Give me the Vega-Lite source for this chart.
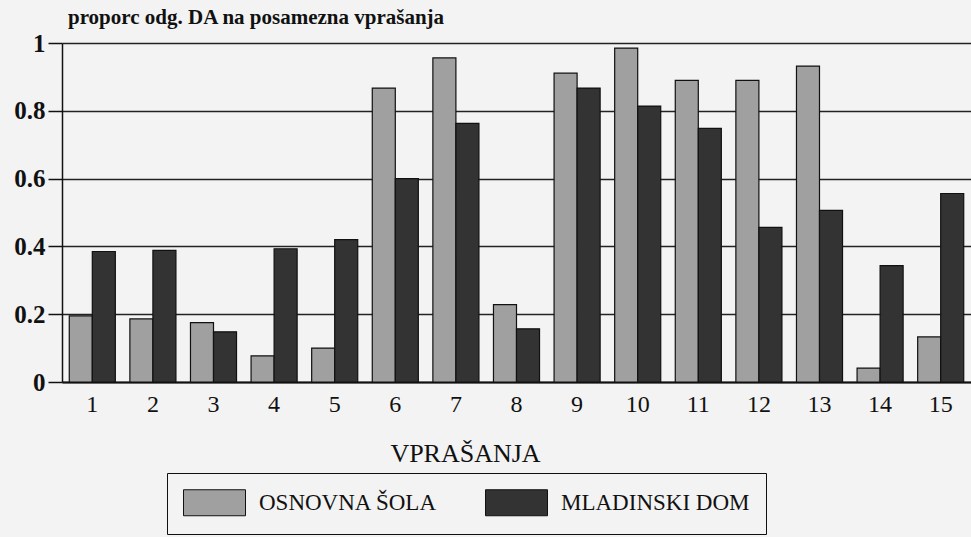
{
  "$schema": "https://vega.github.io/schema/vega-lite/v6.json",
  "width": 909,
  "height": 339,
  "autosize": "none",
  "padding": {"left": 62, "top": 43, "right": 0, "bottom": 155},
  "background": "#f3f3f3",
  "title": {
    "text": "proporc odg. DA na posamezna vprašanja",
    "font": "Liberation Serif",
    "fontSize": 21,
    "fontWeight": "bold",
    "color": "#111",
    "anchor": "start",
    "frame": "group",
    "offset": 3,
    "dx": 6
  },
  "data": {
    "values": [
      {"q": "1", "g": "OSNOVNA ŠOLA", "v": 0.195}, {"q": "1", "g": "MLADINSKI DOM", "v": 0.385},
      {"q": "2", "g": "OSNOVNA ŠOLA", "v": 0.186}, {"q": "2", "g": "MLADINSKI DOM", "v": 0.388},
      {"q": "3", "g": "OSNOVNA ŠOLA", "v": 0.175}, {"q": "3", "g": "MLADINSKI DOM", "v": 0.148},
      {"q": "4", "g": "OSNOVNA ŠOLA", "v": 0.077}, {"q": "4", "g": "MLADINSKI DOM", "v": 0.393},
      {"q": "5", "g": "OSNOVNA ŠOLA", "v": 0.10}, {"q": "5", "g": "MLADINSKI DOM", "v": 0.42},
      {"q": "6", "g": "OSNOVNA ŠOLA", "v": 0.867}, {"q": "6", "g": "MLADINSKI DOM", "v": 0.60},
      {"q": "7", "g": "OSNOVNA ŠOLA", "v": 0.956}, {"q": "7", "g": "MLADINSKI DOM", "v": 0.763},
      {"q": "8", "g": "OSNOVNA ŠOLA", "v": 0.228}, {"q": "8", "g": "MLADINSKI DOM", "v": 0.157},
      {"q": "9", "g": "OSNOVNA ŠOLA", "v": 0.911}, {"q": "9", "g": "MLADINSKI DOM", "v": 0.867},
      {"q": "10", "g": "OSNOVNA ŠOLA", "v": 0.985}, {"q": "10", "g": "MLADINSKI DOM", "v": 0.814},
      {"q": "11", "g": "OSNOVNA ŠOLA", "v": 0.89}, {"q": "11", "g": "MLADINSKI DOM", "v": 0.748},
      {"q": "12", "g": "OSNOVNA ŠOLA", "v": 0.89}, {"q": "12", "g": "MLADINSKI DOM", "v": 0.456},
      {"q": "13", "g": "OSNOVNA ŠOLA", "v": 0.932}, {"q": "13", "g": "MLADINSKI DOM", "v": 0.506},
      {"q": "14", "g": "OSNOVNA ŠOLA", "v": 0.041}, {"q": "14", "g": "MLADINSKI DOM", "v": 0.343},
      {"q": "15", "g": "OSNOVNA ŠOLA", "v": 0.133}, {"q": "15", "g": "MLADINSKI DOM", "v": 0.556}
    ]
  },
  "mark": {"type": "bar", "stroke": "#111", "strokeWidth": 1.2},
  "encoding": {
    "x": {
      "field": "q",
      "type": "ordinal",
      "sort": null,
      "scale": {"paddingInner": 0.24, "paddingOuter": 0.12},
      "axis": {
        "title": "VPRAŠANJA",
        "titleFont": "Liberation Serif",
        "titleFontSize": 26,
        "titleFontWeight": "normal",
        "titleColor": "#111",
        "titleX": 403,
        "titleY": 58,
        "titleAlign": "center",
        "labelFont": "Liberation Serif",
        "labelFontSize": 24,
        "labelColor": "#111",
        "labelAngle": 0,
        "labelPadding": 10,
        "ticks": false,
        "domain": true,
        "domainColor": "#111",
        "domainWidth": 2
      }
    },
    "xOffset": {"field": "g", "type": "nominal", "sort": ["OSNOVNA ŠOLA", "MLADINSKI DOM"], "scale": {"paddingInner": 0, "paddingOuter": 0}},
    "y": {
      "field": "v",
      "type": "quantitative",
      "scale": {"domain": [0, 1], "nice": false},
      "axis": {
        "title": null,
        "values": [0, 0.2, 0.4, 0.6, 0.8, 1],
        "format": "~g",
        "labelFont": "Liberation Serif",
        "labelFontSize": 25,
        "labelFontWeight": "bold",
        "labelColor": "#111",
        "labelPadding": 3,
        "tickSize": 14,
        "tickColor": "#111",
        "tickWidth": 1.5,
        "domainColor": "#111",
        "domainWidth": 1.5,
        "grid": true,
        "gridColor": "#222",
        "gridWidth": 1.6
      }
    },
    "fill": {
      "field": "g",
      "type": "nominal",
      "sort": ["OSNOVNA ŠOLA", "MLADINSKI DOM"],
      "scale": {"domain": ["OSNOVNA ŠOLA", "MLADINSKI DOM"], "range": ["#a0a0a0", "#333333"]},
      "legend": {
        "title": null,
        "orient": "none",
        "legendX": 105,
        "legendY": 430,
        "direction": "horizontal",
        "strokeColor": "#111",
        "padding": 16,
        "symbolType": "M-1,-1H3.77V1H-1Z",
        "symbolSize": 676,
        "symbolStrokeColor": "#111",
        "symbolStrokeWidth": 1,
        "symbolOpacity": 1,
        "labelFont": "Liberation Serif",
        "labelFontSize": 23,
        "labelColor": "#111",
        "labelOffset": 49,
        "columnPadding": 45,
        "labelLimit": 300
      }
    }
  },
  "config": {
    "view": {"stroke": null},
    "axis": {"gridDash": []}
  }
}
